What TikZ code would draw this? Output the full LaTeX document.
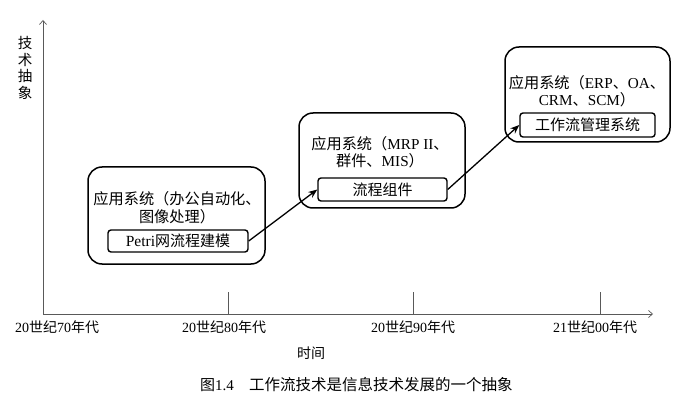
\documentclass[tikz,border=0pt]{standalone}
\usepackage{fontspec}
\setmainfont{Liberation Serif}
\newfontfamily\cjk{Noto Sans CJK SC}
\newfontfamily\lat{Liberation Serif}
\usetikzlibrary{arrows.meta}
\tikzset{
  outerbox/.style={draw, line width=1.5pt, rounded corners=14pt, inner sep=0pt},
  innerbox/.style={draw, line width=1.4pt, rounded corners=3pt, inner sep=0pt},
  btext/.style={font=\cjk\fontsize{15.2}{17.5}\selectfont, inner sep=0pt, align=center},
  axlabel/.style={font=\cjk\fontsize{14}{16}\selectfont, inner sep=0pt},
  axisline/.style={draw=black!65, line width=0.7pt},
  link/.style={line width=1.3pt, -{Stealth[length=9pt,width=7pt]}},
}
\begin{document}
\begin{tikzpicture}[x=1pt,y=-1pt]
\useasboundingbox (0,0) rectangle (693,414);
% axes
\coordinate (O) at (43,314);
\coordinate (ytop) at (43,20);
\coordinate (xend) at (653,314);
\draw[axisline,-{Straight Barb[length=4pt,width=7pt]}] (O) -- (ytop);
\draw[axisline,-{Straight Barb[length=4pt,width=7pt]}] (O) -- (xend);
\coordinate (t1a) at (228,292); \coordinate (t1b) at (228,314);
\coordinate (t2a) at (413,292); \coordinate (t2b) at (413,314);
\coordinate (t3a) at (600,292); \coordinate (t3b) at (600,314);
\draw[axisline] (t1a) -- (t1b);
\draw[axisline] (t2a) -- (t2b);
\draw[axisline] (t3a) -- (t3b);
% axis labels
\node[axlabel] (l70) at (57,327) {{\lat 20}世纪{\lat 70}年代};
\node[axlabel] (l80) at (224,327) {{\lat 20}世纪{\lat 80}年代};
\node[axlabel] (l90) at (413,327) {{\lat 20}世纪{\lat 90}年代};
\node[axlabel] (l00) at (595,327) {{\lat 21}世纪{\lat 00}年代};
\node[axlabel] (xlab) at (311,353) {时间};
\node[axlabel, align=center, font=\cjk\fontsize{14.5}{16.5}\selectfont] (ylab) at (25,68) {技\\术\\抽\\象};
% box 1
\node[outerbox, minimum width=177pt, minimum height=97pt] (b1) at (176.5,215.5) {};
\node[btext] (b1t) at (177,207.5) {应用系统（办公自动化、\\图像处理）};
\node[innerbox, minimum width=140pt, minimum height=22pt, font=\cjk\fontsize{15}{17}\selectfont] (i1) at (178,241) {{\lat\fontsize{15.5}{17}\selectfont Petri}网流程建模};
% box 2
\node[outerbox, minimum width=166pt, minimum height=95pt] (b2) at (382,160.5) {};
\node[btext] (b2t) at (380,152) {应用系统（{\lat MRP II}、\\群件、{\lat MIS}）};
\node[innerbox, minimum width=129pt, minimum height=23pt, font=\cjk\fontsize{15}{17}\selectfont] (i2) at (382.5,189.5) {流程组件};
% box 3
\node[outerbox, minimum width=165pt, minimum height=95pt] (b3) at (587.5,94.5) {};
\node[btext] (b3t) at (587,91) {应用系统（{\lat ERP}、{\lat OA}、\\{\lat CRM}、{\lat SCM}）};
\node[innerbox, minimum width=135pt, minimum height=24pt, font=\cjk\fontsize{15}{17}\selectfont] (i3) at (587.5,125) {工作流管理系统};
% connectors
\draw[link] (i1.east) -- (i2.west);
\draw[link] (i2.east) -- (i3.west);
% caption
\node[axlabel, anchor=west, font=\cjk\fontsize{15}{17}\selectfont] (cap1) at (200,385) {图{\lat 1.4}};
\node[axlabel, anchor=west, font=\cjk\fontsize{15.5}{17}\selectfont] (cap2) at (249,385) {工作流技术是信息技术发展的一个抽象};
\end{tikzpicture}
\end{document}
